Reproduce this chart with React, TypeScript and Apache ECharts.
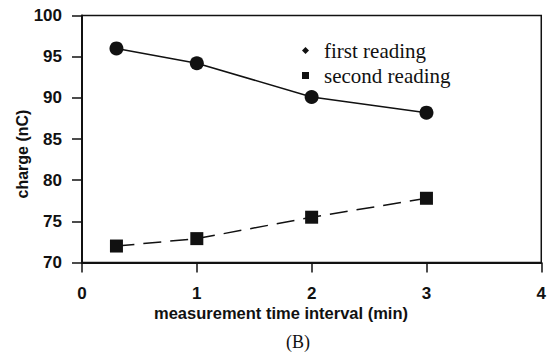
import React, { useEffect, useRef } from "react";
import * as echarts from "echarts";

// Measurement time interval (min) and charge (nC) for both readings
const timeMin = [0.3, 1, 2, 3];
const firstReading = [96.0, 94.2, 90.1, 88.2];
const secondReading = [72.0, 72.9, 75.5, 77.8];

const xTicks = [0, 1, 2, 3, 4];
const yTicks = [70, 75, 80, 85, 90, 95, 100];

const sans = "'Liberation Sans', Arial, Helvetica, sans-serif";
const serif = "'Liberation Serif', 'Times New Roman', serif";

export default function App() {
  const ref = useRef<HTMLDivElement>(null);

  useEffect(() => {
    if (!ref.current) return;
    const chart = echarts.init(ref.current, null, { renderer: "svg" });

    const pairs = (ys: number[]) => timeMin.map((x, i) => [x, ys[i]]);

    chart.setOption({
      animation: false,
      backgroundColor: "#ffffff",
      grid: {
        left: 82,
        right: 6,
        top: 15.5,
        bottom: 93.5,
        show: true,
        borderColor: "#111",
        borderWidth: 1.5,
        backgroundColor: "transparent",
      },
      xAxis: {
        type: "value",
        min: xTicks[0],
        max: xTicks[xTicks.length - 1],
        interval: 1,
        axisLine: { lineStyle: { color: "#111", width: 2 } },
        axisTick: { length: 10, lineStyle: { color: "#111", width: 1.5 } },
        splitLine: { show: false },
        axisLabel: {
          margin: 22,
          color: "#111",
          fontFamily: sans,
          fontWeight: "bold",
          fontSize: 17,
        },
      },
      yAxis: {
        type: "value",
        min: yTicks[0],
        max: yTicks[yTicks.length - 1],
        interval: 5,
        axisLine: { show: true, lineStyle: { color: "#111", width: 2 } },
        axisTick: { show: true, length: 10, lineStyle: { color: "#111", width: 1.5 } },
        splitLine: { show: false },
        axisLabel: {
          margin: 20,
          color: "#111",
          fontFamily: sans,
          fontWeight: "bold",
          fontSize: 17,
        },
      },
      legend: {
        orient: "vertical",
        left: 297,
        top: 35,
        itemWidth: 7,
        itemHeight: 7,
        itemGap: 4,
        textStyle: {
          fontFamily: serif,
          fontSize: 21,
          lineHeight: 21,
          color: "#111",
          padding: [0, 0, 0, 10],
        },
        data: [
          { name: "first reading", icon: "diamond" },
          { name: "second reading", icon: "rect" },
        ],
      },
      series: [
        {
          name: "first reading",
          type: "line",
          data: pairs(firstReading),
          symbol: "circle",
          symbolSize: 14,
          itemStyle: { color: "#111" },
          lineStyle: { color: "#111", width: 1.5, type: "solid" },
        },
        {
          name: "second reading",
          type: "line",
          data: pairs(secondReading),
          symbol: "rect",
          symbolSize: 13,
          itemStyle: { color: "#111" },
          lineStyle: { color: "#111", width: 1.5, type: [18, 9] },
        },
      ],
      graphic: [
        {
          type: "text",
          x: 22,
          y: 154,
          rotation: Math.PI / 2,
          style: {
            text: "charge (nC)",
            font: `bold 16px ${sans}`,
            fill: "#111",
            textAlign: "center",
            textVerticalAlign: "middle",
          },
        },
        {
          type: "text",
          x: 281,
          y: 313,
          style: {
            text: "measurement time interval (min)",
            font: `bold 16.5px ${sans}`,
            fill: "#111",
            textAlign: "center",
            textVerticalAlign: "middle",
          },
        },
        {
          type: "text",
          x: 298,
          y: 342,
          style: {
            text: "(B)",
            font: `18px ${serif}`,
            fill: "#111",
            textAlign: "center",
            textVerticalAlign: "middle",
          },
        },
      ],
    });

    return () => chart.dispose();
  }, []);

  return (
    <div
      ref={ref}
      style={{ position: "fixed", left: 0, top: 0, width: 549, height: 356 }}
    />
  );
}
